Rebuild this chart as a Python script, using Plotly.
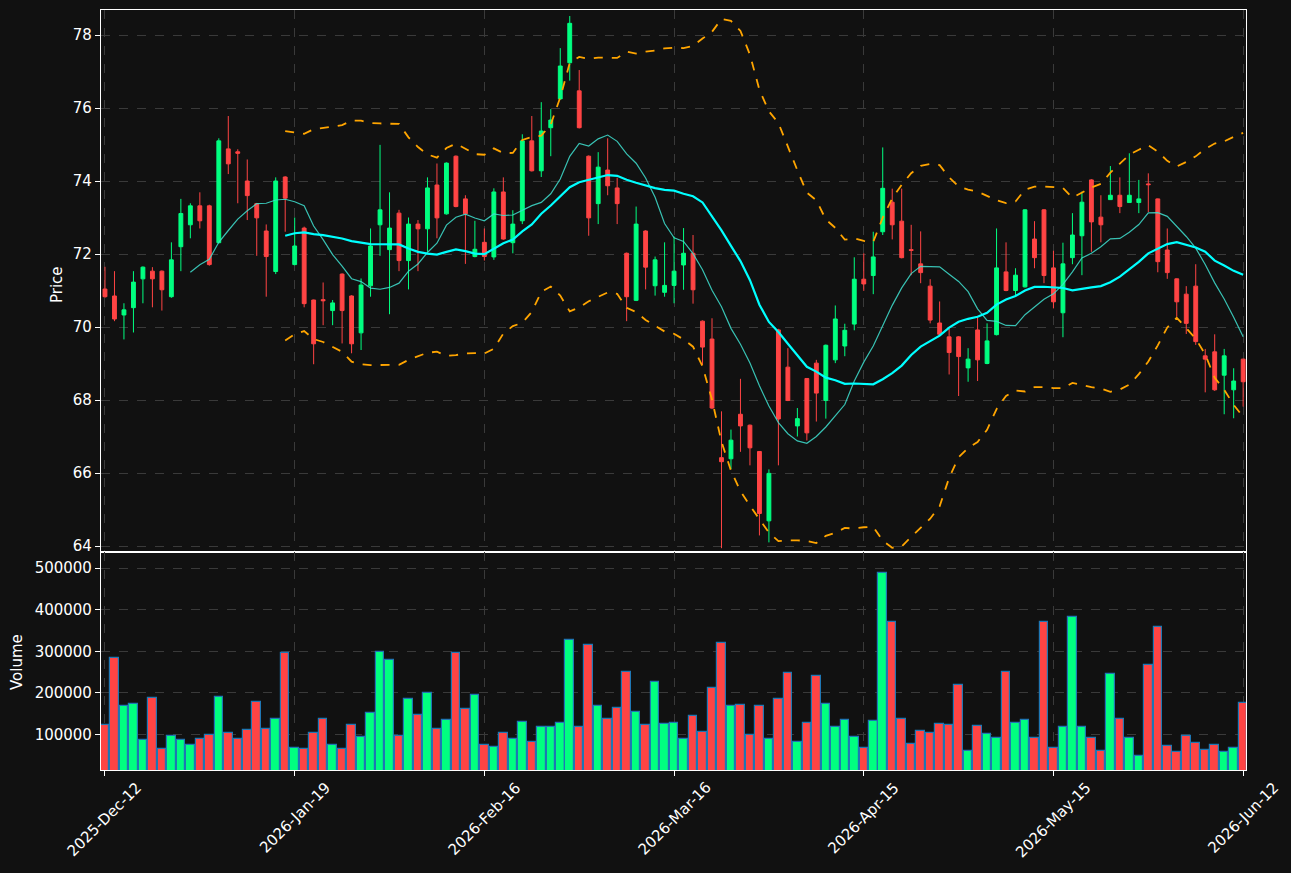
import plotly.graph_objects as go
import pandas as pd

# ---------------- data ----------------
opens = [71.04, 70.85, 70.33, 70.53, 71.32, 71.53, 71.53, 70.83, 72.20, 72.80,
         73.32, 73.32, 72.31, 74.88, 74.80, 74.00, 73.38, 72.63, 71.52, 74.11,
         71.71, 72.71, 70.74, 70.75, 70.45, 71.45, 70.85, 69.84, 71.13, 72.80,
         72.12, 73.12, 71.82, 72.82, 72.69, 73.89, 73.10, 74.68, 73.51, 71.93,
         72.32, 71.92, 73.70, 72.31, 72.91, 75.10, 74.28, 75.46, 76.25, 77.24,
         76.47, 74.68, 73.38, 74.30, 73.81, 72.02, 70.73, 72.63, 71.13, 70.95,
         71.14, 71.70, 72.02, 70.16, 69.67, 66.42, 66.39, 67.61, 67.31, 66.59,
         64.69, 69.92, 68.90, 67.29, 68.59, 69.01, 67.99, 69.10, 69.48, 70.08,
         71.31, 71.41, 72.61, 73.42, 72.90, 72.12, 71.73, 71.12, 70.11, 69.73,
         69.73, 68.88, 69.92, 69.00, 69.79, 71.51, 71.00, 71.10, 72.41, 73.21,
         71.62, 70.39, 71.90, 72.50, 74.03, 73.01, 73.49, 73.61, 73.41, 73.41,
         73.92, 73.51, 72.11, 71.32, 70.90, 71.12, 69.21, 69.32, 68.68, 68.28,
         69.12]
highs = [71.65, 71.53, 70.65, 71.53, 71.66, 71.64, 71.55, 72.32, 73.51, 73.39,
         73.69, 73.35, 75.17, 75.78, 74.87, 74.59, 73.40, 72.81, 74.10, 74.13,
         73.00, 72.75, 70.75, 71.22, 70.74, 71.47, 70.87, 71.33, 72.70, 74.99,
         73.69, 73.21, 73.00, 72.93, 74.10, 74.48, 74.51, 74.70, 73.61, 72.91,
         72.70, 73.80, 74.10, 73.20, 75.28, 75.78, 76.16, 75.97, 77.64, 78.52,
         77.04, 74.70, 74.79, 75.17, 74.09, 72.04, 73.30, 72.65, 71.93, 72.32,
         72.48, 72.71, 72.52, 70.18, 70.24, 67.69, 67.19, 68.58, 67.33, 66.60,
         66.10, 69.95, 69.42, 67.78, 68.60, 69.10, 69.52, 70.59, 70.09, 71.91,
         72.02, 72.61, 74.92, 73.79, 73.79, 72.80, 72.62, 71.31, 70.70, 69.96,
         69.75, 69.42, 70.28, 70.10, 72.70, 72.32, 71.61, 73.23, 72.90, 73.23,
         72.09, 72.31, 73.12, 73.71, 74.05, 73.61, 74.41, 74.10, 74.76, 74.03,
         74.21, 73.52, 72.70, 71.33, 71.12, 71.72, 69.40, 69.80, 69.40, 68.87,
         69.13]
lows = [70.80, 70.16, 69.66, 69.85, 70.65, 70.54, 70.45, 70.80, 71.53, 72.43,
        72.70, 71.68, 72.29, 74.19, 73.39, 72.93, 71.95, 70.83, 71.45, 72.61,
        71.69, 70.54, 68.98, 70.05, 70.05, 69.55, 69.28, 69.37, 70.83, 71.95,
        70.35, 71.53, 71.03, 71.53, 72.06, 72.43, 73.08, 73.28, 71.73, 71.91,
        71.82, 71.84, 72.39, 72.02, 72.82, 74.26, 74.11, 74.68, 76.23, 76.75,
        75.44, 72.50, 72.82, 73.61, 72.82, 70.16, 70.71, 71.03, 70.86, 70.83,
        70.65, 71.02, 70.64, 68.96, 67.75, 63.94, 66.11, 66.58, 66.21, 64.29,
        64.10, 66.21, 67.97, 67.00, 66.89, 67.41, 67.49, 69.01, 69.20, 69.91,
        70.99, 70.90, 72.52, 72.40, 71.88, 71.42, 71.20, 70.10, 69.78, 68.70,
        68.11, 68.50, 68.52, 68.98, 69.77, 70.98, 70.83, 71.08, 71.61, 71.20,
        70.51, 69.72, 71.72, 71.42, 72.06, 72.32, 73.48, 73.12, 73.40, 73.12,
        73.15, 71.50, 71.32, 70.28, 69.81, 69.51, 68.21, 68.25, 67.61, 67.50,
        67.82]
closes = [70.83, 70.22, 70.47, 71.23, 71.64, 71.32, 71.02, 71.84, 73.11, 73.32,
          72.91, 71.71, 75.10, 74.47, 74.76, 73.60, 72.99, 71.93, 74.00, 73.53,
          72.22, 70.64, 69.54, 70.72, 70.66, 70.45, 69.54, 71.15, 72.22, 73.21,
          72.71, 71.82, 72.82, 72.69, 73.81, 72.99, 74.49, 73.30, 73.10, 72.13,
          71.93, 73.70, 72.41, 72.82, 75.10, 74.28, 75.37, 75.67, 77.15, 78.32,
          75.46, 72.99, 74.38, 73.87, 73.38, 70.83, 72.82, 71.64, 71.84, 71.14,
          71.53, 72.02, 71.02, 69.45, 67.78, 66.31, 66.90, 67.29, 66.69, 64.89,
          65.99, 67.48, 67.99, 67.49, 67.10, 68.19, 69.50, 70.22, 69.91, 71.31,
          71.18, 71.92, 73.80, 72.80, 71.90, 72.10, 71.49, 70.19, 69.80, 69.30,
          69.19, 69.12, 69.10, 69.62, 71.62, 71.00, 71.42, 73.21, 71.90, 71.41,
          70.69, 71.73, 72.52, 73.42, 72.88, 72.80, 73.61, 73.30, 73.61, 73.51,
          73.90, 71.79, 71.49, 70.69, 70.10, 69.60, 69.12, 68.28, 69.21, 68.52,
          68.50]
volumes = [122000, 283000, 169000, 172000, 85500, 187000, 64000, 95000, 85500, 73500,
           88000, 97500, 189000, 102000, 88000, 109500, 177000, 112000, 136000, 295000,
           66300, 64000, 102000, 136000, 73500, 64000, 122000, 93000, 150500, 297500,
           278500, 95000, 184500, 146000, 199000, 112000, 133500, 295000, 160000, 194000,
           73500, 68700, 102500, 88000, 129000, 80700, 117000, 117000, 126500, 326500,
           117000, 314500, 167500, 136000, 162500, 249500, 153000, 121700, 225300, 124100,
           126500, 88000, 143400, 104800, 210800, 319300, 167500, 170000, 97600, 167500,
           88000, 184300, 247000, 80700, 126500, 239800, 172300, 117000, 133700, 92800,
           66300, 131300, 488000, 370000, 136000, 76000, 107200, 102400, 124100, 121700,
           218100, 59000, 119300, 100000, 90400, 249400, 126500, 133700, 90400, 370000,
           66300, 117000, 382000, 117000, 90400, 59000, 244600, 136100, 90400, 47000,
           266300, 357800, 71100, 56600, 95200, 78300, 61400, 73500, 56600, 66300,
           174700]
tick_pos = [0, 20, 40, 60, 80, 100, 120]
tick_labels = ["2025-Dec-12", "2026-Jan-19", "2026-Feb-16", "2026-Mar-16",
               "2026-Apr-15", "2026-May-15", "2026-Jun-12"]

# ---------------- derived indicators ----------------
idx = list(range(len(closes)))
cs = pd.Series(closes)
ma10 = cs.rolling(10).mean()
ma20 = cs.rolling(20).mean()
sd20 = cs.rolling(20).std(ddof=0)
bb_up = ma20 + 2 * sd20
bb_lo = ma20 - 2 * sd20

UP = "#00ff80"
DOWN = "#ff4444"
vol_colors = [UP if c >= o else DOWN for o, c in zip(opens, closes)]

BG = "#111111"
GRID = "#3a3a3a"
FONT = dict(family="DejaVu Sans", size=15, color="#ffffff")

fig = go.Figure()
fig.add_trace(go.Candlestick(
    x=idx, open=opens, high=highs, low=lows, close=closes,
    increasing=dict(line=dict(color=UP, width=1), fillcolor=UP),
    decreasing=dict(line=dict(color=DOWN, width=1), fillcolor=DOWN),
    whiskerwidth=0, xaxis="x", yaxis="y", showlegend=False, name="OHLC"))
fig.add_trace(go.Scatter(x=idx, y=ma10, mode="lines",
                         line=dict(color="rgba(64,224,208,0.85)", width=1.2),
                         xaxis="x", yaxis="y", showlegend=False, name="MA10"))
fig.add_trace(go.Scatter(x=idx, y=ma20, mode="lines",
                         line=dict(color="#00ffff", width=2.2),
                         xaxis="x", yaxis="y", showlegend=False, name="MA20"))
for band in (bb_up, bb_lo):
    fig.add_trace(go.Scatter(x=idx, y=band, mode="lines",
                             line=dict(color="#ffa500", width=1.8, dash="dash"),
                             xaxis="x", yaxis="y", showlegend=False))
fig.add_trace(go.Bar(x=idx, y=volumes, width=0.9,
                     marker=dict(color=vol_colors, line=dict(color="#1f77b4", width=1.2)),
                     xaxis="x2", yaxis="y2", showlegend=False, name="Volume"))

W, H = 1291, 873
xd = [101 / W, 1246 / W]
ax_common = dict(showline=True, linecolor="#ffffff", linewidth=1.2, mirror=True,
                 showgrid=True, gridcolor=GRID, griddash="dash", gridwidth=0.8,
                 zeroline=False, tickcolor="#ffffff", ticklen=5,
                 tickfont=FONT, automargin=False)
xr = [-0.42, 120.3]

annotations = [
    dict(text="Price", x=57 / W, y=(H - 285) / H, xref="paper", yref="paper",
         textangle=-90, showarrow=False, font=FONT, xanchor="center", yanchor="middle"),
    dict(text="Volume", x=17 / W, y=(H - 662) / H, xref="paper", yref="paper",
         textangle=-90, showarrow=False, font=FONT, xanchor="center", yanchor="middle"),
]
for p, t in zip(tick_pos, tick_labels):
    annotations.append(dict(text=t, x=p, y=(H - 776) / H, xref="x2", yref="paper",
                            textangle=-45, showarrow=False, font=FONT,
                            xanchor="center", yanchor="top"))

fig.update_layout(
    width=W, height=H, paper_bgcolor=BG, plot_bgcolor=BG,
    margin=dict(l=0, r=0, t=0, b=0, autoexpand=False), boxgap=0.42, bargap=0,
    xaxis=dict(domain=xd, range=xr, tickvals=tick_pos, ticktext=tick_labels,
               showticklabels=False, anchor="y", rangeslider=dict(visible=False),
               ticks="", **ax_common),
    yaxis=dict(domain=[(H - 552) / H, (H - 10) / H], range=[63.836, 78.685],
               tickvals=[64, 66, 68, 70, 72, 74, 76, 78], anchor="x",
               ticks="outside", **ax_common),
    xaxis2=dict(domain=xd, range=xr, tickvals=tick_pos, ticktext=tick_labels,
                showticklabels=False, anchor="y2", matches="x", ticks="outside",
                **ax_common),
    yaxis2=dict(domain=[(H - 770) / H, (H - 552) / H], range=[14100, 539000],
                tickvals=[100000, 200000, 300000, 400000, 500000], tickformat="d",
                anchor="x2", ticks="outside", **ax_common),
    annotations=annotations,
)
fig.write_html("out.html")
